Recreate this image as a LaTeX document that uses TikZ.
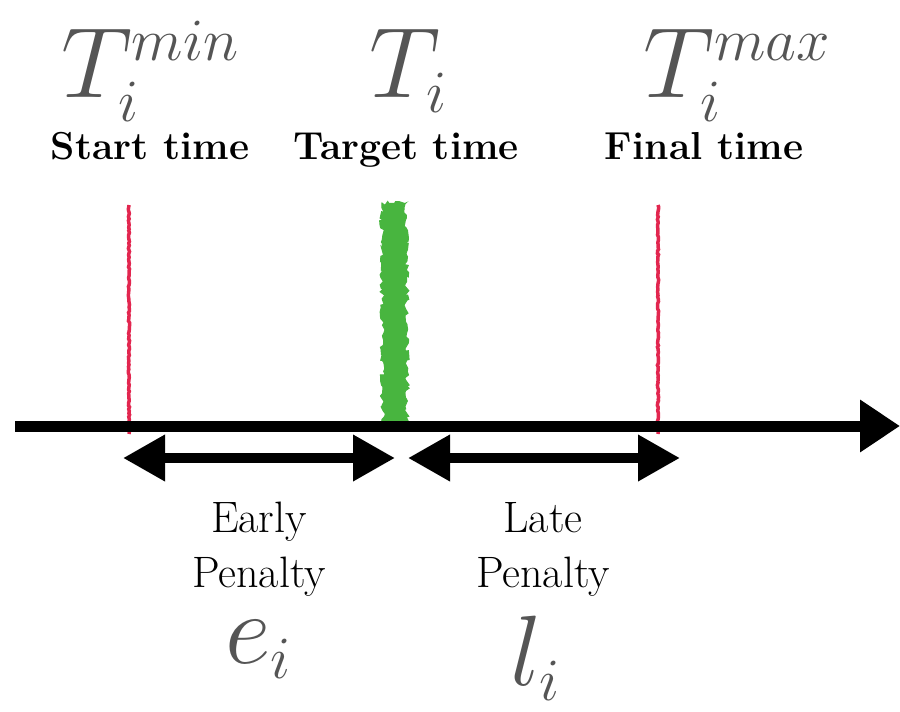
\RequirePackage{fix-cm}
\documentclass[tikz,border=0pt]{standalone}
\usetikzlibrary{arrows.meta,decorations.pathmorphing}
\DeclareMathSizes{100}{100}{60}{45}
\definecolor{mred}{HTML}{E2264F}
\definecolor{mgreen}{HTML}{48B53F}
\definecolor{mgray}{HTML}{555555}
\tikzset{
  redline/.style={draw=mred,line width=3.5pt,decorate,decoration={random steps,segment length=2pt,amplitude=0.6pt}},
  greenbar/.style={fill=mgreen,draw=mgreen,line width=1pt,decorate,decoration={random steps,segment length=3pt,amplitude=2.5pt}},
  axisline/.style={line width=11pt,-{Triangle[length=40pt,width=50pt]}},
  dblarrow/.style={line width=10pt,{Triangle[length=42pt,width=44pt]}-{Triangle[length=42pt,width=44pt]}},
  bigmath/.style={text=mgray,font=\fontsize{100}{100}\selectfont,inner sep=0pt,anchor=base},
  timelabel/.style={font=\fontsize{39}{40}\selectfont\bfseries,inner sep=0pt,anchor=base},
  penlabel/.style={font=\fontsize{44}{55}\selectfont,inner sep=0pt,align=center,anchor=base}
}
\begin{document}
\begin{tikzpicture}[x=1pt,y=-1pt]
\useasboundingbox (0,0) rectangle (900,712);
% rough target bar
\path[greenbar] (382,203) -- (406,203) -- (407,427) -- (383,427) -- cycle;
% red marker lines
\coordinate (r1t) at (129,205); \coordinate (r1b) at (129,434);
\coordinate (r2t) at (658,205); \coordinate (r2b) at (658,434);
\path[redline] (r1t) -- (r1b);
\path[redline] (r2t) -- (r2b);
% axis
\coordinate (ax0) at (15,426); \coordinate (ax1) at (900,426);
\draw[axisline] (ax0) -- (ax1);
% penalty arrows
\coordinate (ea) at (123,458); \coordinate (eb) at (395,458);
\coordinate (la) at (408,458); \coordinate (lb) at (680,458);
\draw[dblarrow] (ea) -- (eb);
\draw[dblarrow] (la) -- (lb);
% top labels
\node[bigmath] (tmin) at (150,97) {$T_i^{min}$};
\node[bigmath] (ti) at (408,97) {$T_i$};
\node[bigmath] (tmax) at (737,97) {$T_i^{max}$};
\node[timelabel] (st) at (150,159) {Start time};
\node[timelabel] (tt) at (406,159) {Target time};
\node[timelabel] (ft) at (704,159) {Final time};
% bottom labels
\node[penlabel] (ep) at (259,587) {Early\\Penalty};
\node[penlabel] (lp) at (543,587) {Late\\Penalty};
\node[bigmath] (ei) at (258,663) {$e_i$};
\node[bigmath] (li) at (535,685) {$l_i$};
\end{tikzpicture}
\end{document}
